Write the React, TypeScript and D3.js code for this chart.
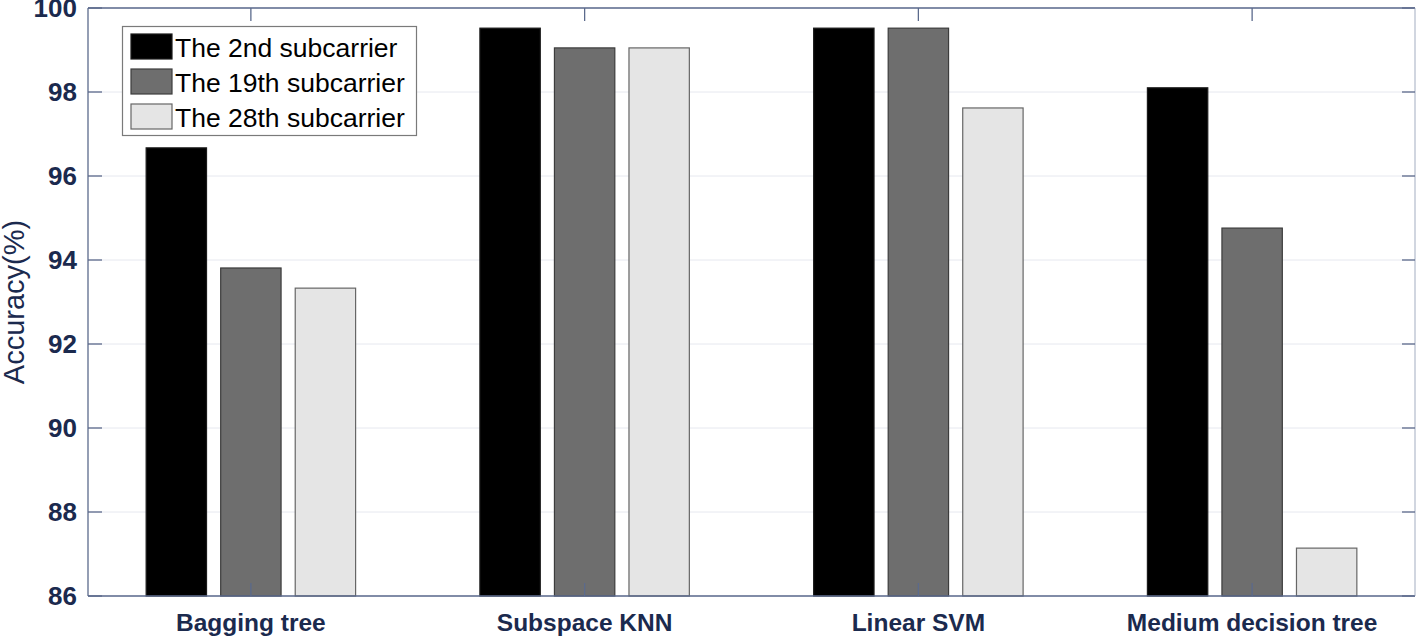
import React from "react";
import * as d3 from "d3";

const categories = ["Bagging tree", "Subspace KNN", "Linear SVM", "Medium decision tree"];
const seriesNames = ["The 2nd subcarrier", "The 19th subcarrier", "The 28th subcarrier"];
const sub2 = [96.67, 99.52, 99.52, 98.1];
const sub19 = [93.81, 99.05, 99.52, 94.76];
const sub28 = [93.33, 99.05, 97.62, 87.14];
const yTicks = [86, 88, 90, 92, 94, 96, 98, 100];

const fills = ["#000000", "#6e6e6e", "#e5e5e5"];
const strokes = ["#1a1a1a", "#3c3c3c", "#666666"];

const W = 1416;
const H = 638;
const L = 88;
const R = 1415;
const T = 8;
const B = 596;
const axisColor = "#5b6a8c";
const labelColor = "#1b2a4e";

export default function App() {
  const series = [sub2, sub19, sub28];
  const x = d3.scaleLinear().domain([0.5, 4.5]).range([84, 1419]);
  const y = d3.scaleLinear().domain([86, 100]).range([B, T]);
  const inner = d3
    .scaleBand<number>()
    .domain([0, 1, 2])
    .range([-0.335, 0.335])
    .paddingInner(0.19)
    .paddingOuter(0.095);
  const pxPerUnit = x(2) - x(1);

  return (
    <svg
      width={W}
      height={H}
      style={{ position: "absolute", left: 0, top: 0, background: "#fff" }}
      fontFamily="'Liberation Sans', Arial, sans-serif"
    >
      {/* grid */}
      {yTicks.map((t) => (
        <line key={"g" + t} x1={L} x2={R} y1={y(t)} y2={y(t)} stroke="#e6e8ef" strokeWidth={1} />
      ))}
      {/* bars */}
      {series.map((vals, si) =>
        vals.map((v, ci) => {
          const cx = x(ci + 1);
          const x0 = cx + (inner(si) as number) * pxPerUnit;
          const bw = inner.bandwidth() * pxPerUnit;
          return (
            <rect
              key={`b${si}-${ci}`}
              x={x0}
              y={y(v)}
              width={bw}
              height={B - y(v)}
              fill={fills[si]}
              stroke={strokes[si]}
              strokeWidth={1.2}
            />
          );
        })
      )}
      {/* axes box */}
      <line x1={L} x2={R} y1={T} y2={T} stroke={axisColor} strokeWidth={1.3} />
      <line x1={L} x2={R} y1={B} y2={B} stroke={axisColor} strokeWidth={1.3} />
      <line x1={L} x2={L} y1={T} y2={B} stroke={axisColor} strokeWidth={1.3} />
      <line x1={R} x2={R} y1={T} y2={B} stroke="#b9c0d0" strokeWidth={1.3} />
      {/* y ticks */}
      {yTicks.map((t) => (
        <g key={"yt" + t}>
          <line x1={L} x2={L + 14} y1={y(t)} y2={y(t)} stroke={axisColor} strokeWidth={1.3} />
          <line x1={R - 13} x2={R} y1={y(t)} y2={y(t)} stroke={axisColor} strokeWidth={1.3} />
          <text
            x={77}
            y={y(t)}
            dy="0.36em"
            textAnchor="end"
            fontSize={26}
            fontWeight="bold"
            fill={labelColor}
          >
            {t}
          </text>
        </g>
      ))}
      {/* x ticks */}
      {categories.map((c, i) => (
        <g key={"xt" + i}>
          <line x1={x(i + 1)} x2={x(i + 1)} y1={T} y2={T + 13} stroke={axisColor} strokeWidth={1.3} />
          <line x1={x(i + 1)} x2={x(i + 1)} y1={B} y2={B - 13} stroke={axisColor} strokeWidth={1.3} />
          <text
            x={x(i + 1)}
            y={631}
            textAnchor="middle"
            fontSize={24.5}
            fontWeight="bold"
            fill={labelColor}
          >
            {c}
          </text>
        </g>
      ))}
      {/* y axis label */}
      <text
        transform={`translate(24,${(T + B) / 2}) rotate(-90)`}
        textAnchor="middle"
        fontSize={29}
        fill={labelColor}
      >
        Accuracy(%)
      </text>
      {/* legend */}
      <rect x={122.5} y={26.5} width={294} height={109} fill="#fff" stroke="#7a7a7a" strokeWidth={1.2} />
      {seriesNames.map((s, i) => (
        <g key={"lg" + i}>
          <rect
            x={131}
            y={34 + i * 35}
            width={41}
            height={25}
            fill={fills[i]}
            stroke={strokes[i]}
            strokeWidth={1.2}
          />
          <text x={175} y={57 + i * 35} fontSize={26.5} fill="#000">
            {s}
          </text>
        </g>
      ))}
    </svg>
  );
}
